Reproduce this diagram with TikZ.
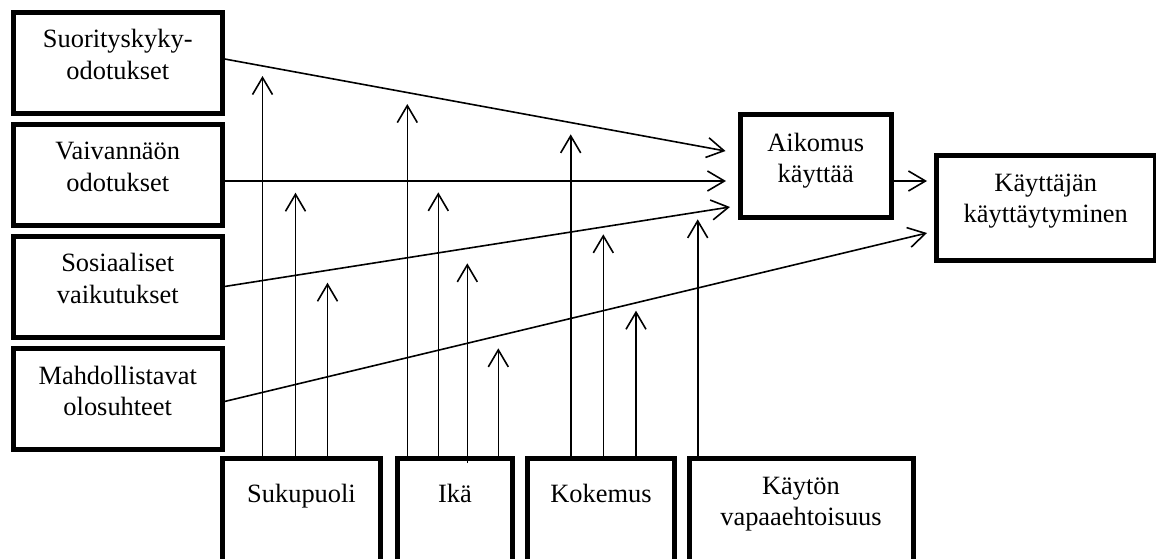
\documentclass[tikz,border=0pt]{standalone}
\usepackage{fontspec}
\setmainfont{Liberation Serif}
\usepackage{tikz}
\usetikzlibrary{arrows.meta,positioning}

\begin{document}
\begin{tikzpicture}[
  x=1pt, y=1pt,
  box/.style={draw, line width=5pt, inner sep=0pt, outer sep=0pt, align=center,
              font=\fontsize{26.4}{31.7}\selectfont},
  leftbox/.style={box, text width=208.5pt, text height=35.5pt, text depth=65.5pt},
  footbox/.style={box, text height=44.5pt, text depth=75.5pt},
  arr/.style={-{Straight Barb[length=17pt,width=20pt]}, line width=1.6pt},
  node distance=11.2pt
]
  \useasboundingbox (0,0) rectangle (1156,-558);

  % Left column
  \node[leftbox, anchor=north west] (suor) at (13.5,-12) {Suorityskyky-\\odotukset};
  \node[leftbox, below=of suor] (vaiv) {Vaivannäön\\odotukset};
  \node[leftbox, below=of vaiv] (sosi) {Sosiaaliset\\vaikutukset};
  \node[leftbox, below=of sosi] (mahd) {Mahdollistavat\\olosuhteet};

  % Intention and behaviour
  \node[box, text width=151.5pt, text height=36.5pt, text depth=66.5pt,
        anchor=north west] (aik) at (740,-114.5) {Aikomus\\käyttää};
  \node[box, text width=218.5pt, text height=35.5pt, text depth=69.5pt,
        anchor=north west] (kayt) at (936.5,-155.5) {Käyttäjän\\käyttäytyminen};

  % Moderators along the bottom
  \node[footbox, text width=158pt, anchor=north west] (suku) at (222.5,-458) {Sukupuoli};
  \node[footbox, text width=115pt, right=17pt of suku] (ika) {Ikä};
  \node[footbox, text width=147pt, right=15pt of ika] (koke) {Kokemus};
  \node[footbox, text width=224pt, text height=36pt, text depth=84pt,
        right=14.5pt of koke] (vapa) {Käytön\\vapaaehtoisuus};

  % Arrows to intention and behaviour
  \draw[arr] ([yshift=4pt]suor.east) -- ([xshift=-14.5pt,yshift=15pt]aik.west);
  \draw[arr] ([yshift=-6.3pt]vaiv.east) -- ([xshift=-14pt,yshift=-15pt]aik.west);
  \draw[arr] (sosi.east) -- ([xshift=-10pt,yshift=-41pt]aik.west);
  \draw[arr] ([yshift=-3pt]mahd.east) -- ([xshift=-9.5pt,yshift=-25pt]kayt.west);
  \draw[arr] ([yshift=-15pt]aik.east) -- ([xshift=-9.5pt,yshift=27pt]kayt.west);

  % Moderator arrows
  \draw[arr] ([xshift=-39pt]suku.north) -- ++(0,382);
  \draw[arr] ([xshift=-6pt]suku.north) -- ++(0,265.3);
  \draw[arr] ([xshift=26pt]suku.north) -- ++(0,175.3);
  \draw[arr] ([xshift=-47.7pt]ika.north) -- ++(0,354);
  \draw[arr] ([xshift=-16.7pt]ika.north) -- ++(0,265.7);
  \draw[arr] ([xshift=12.3pt,yshift=-5pt]ika.north) -- ++(0,199.7);
  \draw[arr] ([xshift=43.3pt]ika.north) -- ++(0,109.7);
  \draw[arr] ([xshift=-30.3pt]koke.north) -- ++(0,323.7);
  \draw[arr] ([xshift=2.3pt]koke.north) -- ++(0,223.7);
  \draw[arr] ([xshift=35pt]koke.north) -- ++(0,147.3);
  \draw[arr] ([xshift=-103.3pt]vapa.north) -- ++(0,238.7);
\end{tikzpicture}
\end{document}
